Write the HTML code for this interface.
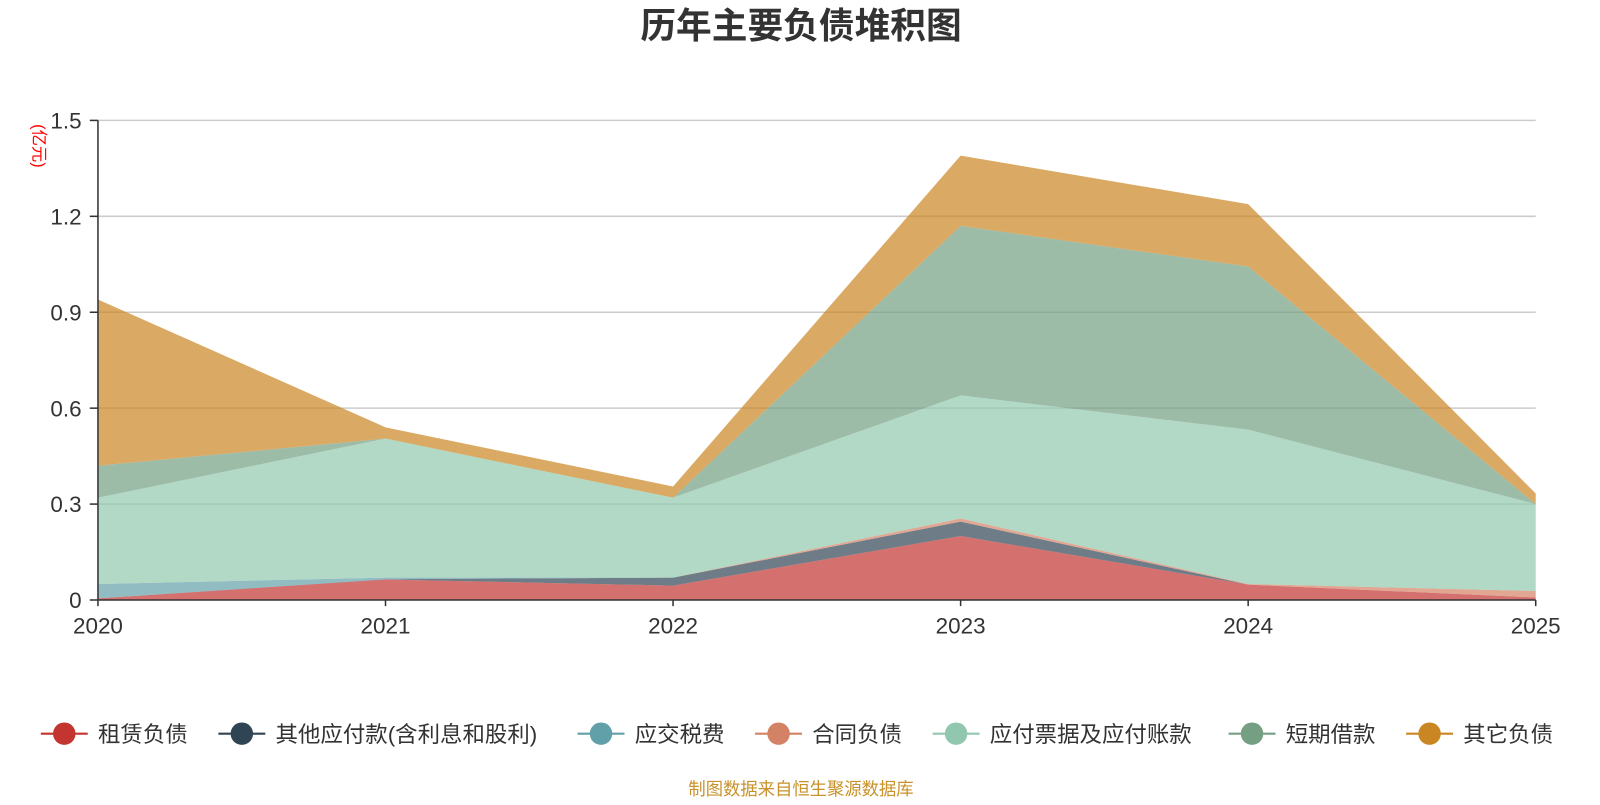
<!DOCTYPE html>
<html><head><meta charset="utf-8"><style>
body{margin:0;background:#fff;font-family:"Liberation Sans","Noto Sans CJK SC",sans-serif;}
svg text{font-family:"Liberation Sans","Noto Sans CJK SC",sans-serif;}
</style></head><body>
<svg id="chart" width="1600" height="800" viewBox="0 0 1568 784">
<text x="785" y="37" text-anchor="middle" font-size="35" font-weight="bold" fill="#333">历年主要负债堆积图</text>
<text transform="translate(33,143) rotate(90)" text-anchor="middle" font-size="16" fill="#f00">(亿元)</text>
<g id="grid"></g><g id="areas"></g><g id="axes"></g><g id="legend"></g>
<text x="785" y="779" text-anchor="middle" font-size="17" fill="#c8922a">制图数据来自恒生聚源数据库</text>
</svg>
<script>
const years=['2020','2021','2022','2023','2024','2025'];
const yTicks=[0,0.3,0.6,0.9,1.2,1.5];
const seriesNames=['租赁负债','其他应付款(含利息和股利)','应交税费','合同负债','应付票据及应付账款','短期借款','其它负债'];
const lease=[0.005,0.064,0.045,0.2,0.048,0.008];
const otherPay=[0,0.001,0.025,0.045,0,0];
const tax=[0.045,0.005,0,0,0,0];
const contract=[0,0,0,0.01,0.002,0.02];
const payables=[0.27,0.435,0.25,0.385,0.483,0.272];
const shortLoan=[0.1,0,0,0.53,0.51,0];
const otherLiab=[0.52,0.035,0.035,0.22,0.195,0.033];
const colors=['#c23531','#2f4554','#61a0a8','#d48265','#91c7ae','#749f83','#ca8622'];
const series=[lease,otherPay,tax,contract,payables,shortLoan,otherLiab];
const NS='http://www.w3.org/2000/svg';
const X0=96,X1=1505,Y0=588,Y1=118;
const xS=i=>X0+(X1-X0)*i/(years.length-1);
const yS=v=>Y0-(Y0-Y1)*v/1.5;
function mk(t,a,p){const e=document.createElementNS(NS,t);for(const k in a)e.setAttribute(k,a[k]);p.appendChild(e);return e;}
const grid=document.getElementById('grid'),axes=document.getElementById('axes'),areas=document.getElementById('areas'),legend=document.getElementById('legend');
yTicks.forEach(v=>{
  if(v>0){const l=mk('line',{x1:X0,x2:X1,y1:yS(v),y2:yS(v),stroke:'#ccc','stroke-width':1.5},grid);
  
  }
  const t=mk('text',{x:X0-16,y:yS(v)+8,'text-anchor':'end','font-size':22,fill:'#333'},axes);t.textContent=v===0?'0':v.toFixed(1);
  
  
  mk('line',{x1:X0-8,x2:X0,y1:yS(v),y2:yS(v),stroke:'#333','stroke-width':1.5},axes);
});
let base=years.map(()=>0);
series.forEach((s,k)=>{
  const top=base.map((b,i)=>b+s[i]);
  let d='M'+years.map((_,i)=>xS(i)+','+yS(top[i])).join(' L');
  for(let i=years.length-1;i>=0;i--)d+=' L'+xS(i)+','+yS(base[i]);
  const p=mk('path',{d:d+'Z',fill:colors[k],'fill-opacity':0.7},areas);
  
  
  base=top;
});
mk('line',{x1:X0,x2:X0,y1:Y1,y2:Y0,stroke:'#333','stroke-width':1.5},axes);
mk('line',{x1:X0,x2:X1,y1:Y0,y2:Y0,stroke:'#333','stroke-width':1.5},axes);
years.forEach((y,i)=>{
  mk('line',{x1:xS(i),x2:xS(i),y1:Y0,y2:Y0+6,stroke:'#333','stroke-width':1.5},axes);
  const t=mk('text',{x:xS(i),y:621,'text-anchor':'middle','font-size':22,fill:'#333'},axes);t.textContent=y;
  
  
});
const legX=[40,214,566,740,914,1204,1378];
seriesNames.forEach((n,k)=>{
  const g=mk('g',{},legend);
  
  
  const x=legX[k];
  mk('line',{x1:x,x2:x+46,y1:719,y2:719,stroke:colors[k],'stroke-width':2},g);
  mk('circle',{cx:x+23,cy:719,r:11,fill:colors[k]},g);
  const t=mk('text',{x:x+56,y:727,'font-size':22,fill:'#333'},g);t.textContent=n;
});
</script>
</body></html>
